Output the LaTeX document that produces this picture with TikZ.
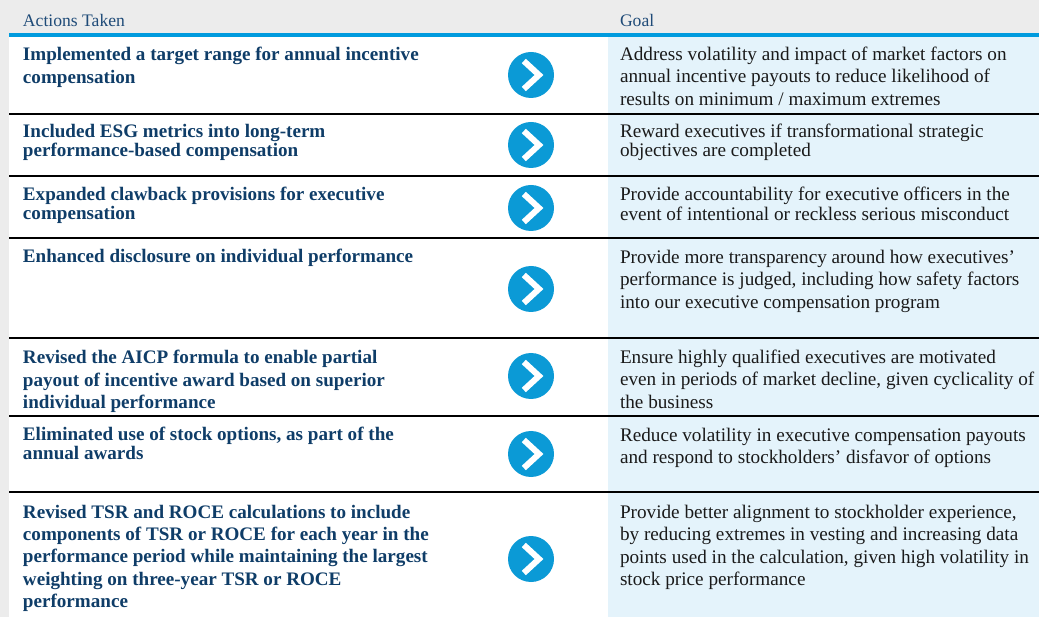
\documentclass[tikz,border=0pt]{standalone}
\usepackage{fontspec}
\setmainfont{Liberation Serif}
\definecolor{headgray}{HTML}{ECECEC}
\definecolor{rulecyan}{HTML}{009BDE}
\definecolor{disccyan}{HTML}{0B9AD6}
\definecolor{panelblue}{HTML}{E4F3FB}
\definecolor{navy}{HTML}{0F3D68}
\definecolor{headnavy}{HTML}{1F4B78}
\definecolor{bodyblack}{HTML}{1A1A1A}
\tikzset{
  base/.style={inner sep=0pt,outer sep=0pt,anchor=north west,align=left},
  head/.style={base,text=headnavy,font=\fontsize{17.6}{20}\selectfont},
  action/.style={base,text=navy,font=\fontsize{19.1}{#1}\selectfont\bfseries},
  goal/.style={base,text=bodyblack,font=\fontsize{19.2}{#1}\selectfont},
  rowline/.style={line width=2pt,black},
  arrowdisc/.style={circle,fill=disccyan,minimum size=46pt,inner sep=0pt},
  chev/.style={white,line width=6pt}
}
\newcommand{\chevron}[2]{%
  \node[arrowdisc] (#1) at (531,#2) {};
  \draw[chev] ([shift={(-7.2,-14)}]#1.center) -- ([shift={(8,0)}]#1.center) -- ([shift={(-7.2,14)}]#1.center);
}
\begin{document}
\begin{tikzpicture}[x=1pt,y=-1pt]
\useasboundingbox (0,0) rectangle (1039,617);
\fill[white] (0,0) rectangle (1039,617);
\fill[headgray] (0,0) rectangle (1039,33);
\fill[headgray] (0,33) rectangle (9,617);
\fill[panelblue] (608,37) rectangle (1039,617);
\fill[rulecyan] (9,33) rectangle (1039,37);
\foreach \y in {114,176,238,338,416,492} \draw[rowline] (9,\y) -- (1039,\y);
\node[head,anchor=base west] (h1) at (23,27) {Actions Taken};
\node[head,anchor=base west] (h2) at (620,27) {Goal};
\node[action=22.7pt] (a1) at (23,46.9) {Implemented a target range for annual incentive\\compensation};
\node[action=19.6pt] (a2) at (23,123.9) {Included ESG metrics into long-term\\performance-based compensation};
\node[action=19.6pt] (a3) at (23,186.9) {Expanded clawback provisions for executive\\compensation};
\node[action=22.7pt] (a4) at (23,248.9) {Enhanced disclosure on individual performance};
\node[action=22.7pt] (a5) at (23,349.9) {Revised the AICP formula to enable partial\\payout of incentive award based on superior\\individual performance};
\node[action=19.6pt] (a6) at (23,426.9) {Eliminated use of stock options, as part of the\\annual awards};
\node[action=22.4pt] (a7) at (23,504.9) {Revised TSR and ROCE calculations to include\\components of TSR or ROCE for each year in the\\performance period while maintaining the largest\\weighting on three-year TSR or ROCE\\performance};
\node[goal=22.5pt] (g1) at (620,46.9) {Address volatility and impact of market factors on\\annual incentive payouts to reduce likelihood of\\results on minimum / maximum extremes};
\node[goal=19.2pt] (g2) at (620,123.9) {Reward executives if transformational strategic\\objectives are completed};
\node[goal=19.6pt] (g3) at (620,186.9) {Provide accountability for executive officers in the\\event of intentional or reckless serious misconduct};
\node[goal=22.5pt] (g4) at (620,249.9) {Provide more transparency around how executives’\\performance is judged, including how safety factors\\into our executive compensation program};
\node[goal=22.5pt] (g5) at (620,349.9) {Ensure highly qualified executives are motivated\\even in periods of market decline, given cyclicality of\\the business};
\node[goal=22.5pt] (g6) at (620,427.9) {Reduce volatility in executive compensation payouts\\and respond to stockholders’ disfavor of options};
\node[goal=22.4pt] (g7) at (620,504.9) {Provide better alignment to stockholder experience,\\by reducing extremes in vesting and increasing data\\points used in the calculation, given high volatility in\\stock price performance};
\chevron{c1}{75}
\chevron{c2}{145}
\chevron{c3}{208}
\chevron{c4}{289}
\chevron{c5}{376}
\chevron{c6}{454}
\chevron{c7}{559}
\end{tikzpicture}
\end{document}
